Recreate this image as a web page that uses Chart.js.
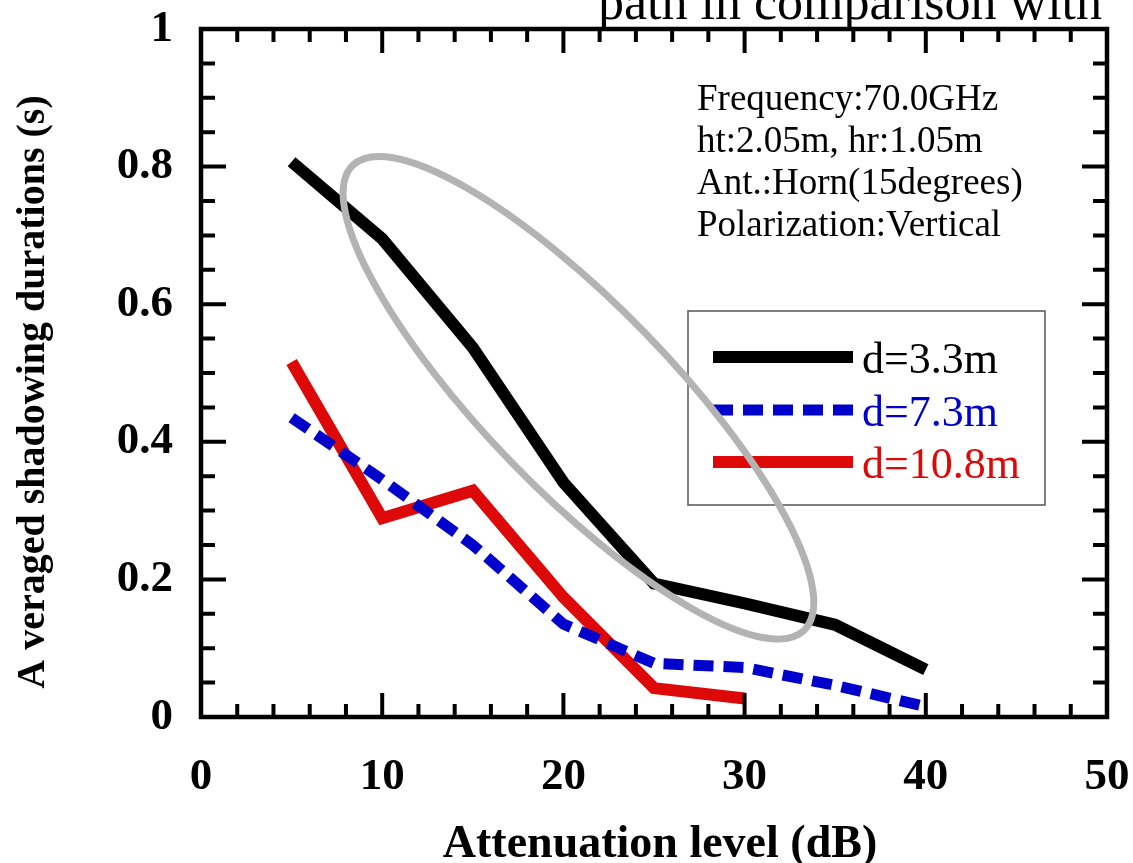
<!DOCTYPE html>
<html>
<head>
<meta charset="utf-8">
<script src="https://cdn.jsdelivr.net/npm/chart.js@4/dist/chart.umd.min.js"></script>
<style>
  html, body { margin: 0; padding: 0; background: #fff; }
  #wrap { width: 1133px; height: 863px; position: relative; }
</style>
</head>
<body>
<div id="wrap"><canvas id="c" width="1133" height="863"></canvas></div>
<script>
// ---- data ----
const attenuation = [5, 10, 15, 20, 25, 30, 35, 40];
const d33 = [0.807, 0.695, 0.537, 0.341, 0.194, 0.165, 0.134, 0.069];
const d73 = [0.435, 0.345, 0.25, 0.135, 0.078, 0.072, 0.046, 0.015];
const d108 = [0.516, 0.289, 0.329, 0.174, 0.042, 0.027];
const seriesLabels = ['d=3.3m', 'd=7.3m', 'd=10.8m'];
const xTicks = [0, 10, 20, 30, 40, 50];
const xTickLabels = ['0', '10', '20', '30', '40', '50'];
const yTicks = [0, 0.2, 0.4, 0.6, 0.8, 1];
const yTickLabels = ['0', '0.2', '0.4', '0.6', '0.8', '1'];
const infoLines = ['Frequency:70.0GHz', 'ht:2.05m, hr:1.05m', 'Ant.:Horn(15degrees)', 'Polarization:Vertical'];
const titleText = 'path in comparison with';
const xTitle = 'Attenuation level (dB)';
const yTitle = 'A veraged shadowing durations (s)';

const SERIF = '"Liberation Serif", "Times New Roman", serif';

function pts(xs, ys) { return ys.map((v, i) => ({ x: xs[i], y: v })); }

const decorPlugin = {
  id: 'decor',
  afterDatasetsDraw(chart) {
    const ctx = chart.ctx;
    const ca = chart.chartArea;
    const xs = chart.scales.x, ys = chart.scales.y;
    ctx.save();
    // frame
    ctx.strokeStyle = '#000';
    ctx.lineWidth = 4.5;
    ctx.strokeRect(ca.left, ca.top, ca.right - ca.left, ca.bottom - ca.top);
    // inward ticks
    ctx.lineWidth = 4;
    ctx.lineCap = 'butt';
    for (let v = 2; v < 50; v += 2) {
      const p = xs.getPixelForValue(v);
      const major = v % 10 === 0;
      const L = major ? 24 : 13;
      ctx.beginPath();
      ctx.moveTo(p, ca.bottom); ctx.lineTo(p, ca.bottom - L);
      ctx.moveTo(p, ca.top); ctx.lineTo(p, ca.top + L);
      ctx.stroke();
    }
    for (let k = 1; k < 20; k++) {
      const p = ys.getPixelForValue(k * 0.05);
      const major = k % 4 === 0;
      const L = major ? 25 : 14;
      ctx.beginPath();
      ctx.moveTo(ca.left, p); ctx.lineTo(ca.left + L, p);
      ctx.moveTo(ca.right, p); ctx.lineTo(ca.right - L, p);
      ctx.stroke();
    }
    // legend
    const lx0 = 688, ly0 = 311, lx1 = 1045, ly1 = 505;
    ctx.lineWidth = 1.5;
    ctx.strokeStyle = '#555';
    ctx.strokeRect(lx0, ly0, lx1 - lx0, ly1 - ly0);
    const rows = [357, 410, 462];
    chart.data.datasets.forEach((ds, i) => {
      ctx.save();
      ctx.strokeStyle = ds.borderColor;
      ctx.lineWidth = ds.borderWidth;
      ctx.setLineDash(ds.borderDash || []);
      ctx.beginPath();
      ctx.moveTo(713, rows[i]); ctx.lineTo(853, rows[i]);
      ctx.stroke();
      ctx.restore();
      ctx.fillStyle = ds.borderColor;
      ctx.font = '44px ' + SERIF;
      ctx.textAlign = 'left';
      ctx.textBaseline = 'alphabetic';
      ctx.fillText(ds.label, 862, rows[i] + 16);
    });
    // ellipse (anchored to data coordinates)
    const cx = xs.getPixelForValue(20.83), cy = ys.getPixelForValue(0.464);
    ctx.strokeStyle = '#b3b3b3';
    ctx.lineWidth = 7;
    ctx.beginPath();
    ctx.ellipse(cx, cy, 324, 93, 45.85 * Math.PI / 180, 0, Math.PI * 2);
    ctx.stroke();
    // info text
    ctx.fillStyle = '#000';
    ctx.font = '37px ' + SERIF;
    ctx.textAlign = 'left';
    ctx.textBaseline = 'alphabetic';
    infoLines.forEach((t, i) => ctx.fillText(t, 697, 110 + 42 * i));
    // cut-off title
    ctx.font = '52px ' + SERIF;
    ctx.fillText(titleText, 598, 19);
    // axis titles
    ctx.font = 'bold 46px ' + SERIF;
    ctx.textAlign = 'center';
    ctx.fillText(xTitle, 660, 857);
    ctx.save();
    ctx.translate(44, 392);
    ctx.rotate(-Math.PI / 2);
    ctx.font = 'bold 40px ' + SERIF;
    ctx.fillText(yTitle, 0, 0);
    ctx.restore();
    ctx.restore();
  }
};

new Chart(document.getElementById('c'), {
  type: 'line',
  data: {
    datasets: [
      { label: seriesLabels[0], data: pts(attenuation, d33), borderColor: '#000000', borderWidth: 12, pointRadius: 0, tension: 0 },
      { label: seriesLabels[1], data: pts(attenuation, d73), borderColor: '#0000cc', borderWidth: 11, borderDash: [20, 10], pointRadius: 0, tension: 0 },
      { label: seriesLabels[2], data: pts(attenuation, d108), borderColor: '#dd0808', borderWidth: 12, pointRadius: 0, tension: 0 }
    ]
  },
  options: {
    responsive: false,
    animation: false,
    devicePixelRatio: 1,
    layout: { padding: { left: 0, top: 29, right: 26, bottom: 0 } },
    plugins: { legend: { display: false }, tooltip: { enabled: false } },
    scales: {
      x: {
        type: 'linear', min: 0, max: 50,
        afterBuildTicks: (s) => { s.ticks = xTicks.map(v => ({ value: v })); },
        afterFit: (s) => { s.height = 146; s.paddingLeft = 0; s.paddingRight = 0; },
        grid: { display: false, drawTicks: false },
        border: { display: false },
        ticks: {
          padding: 33, color: '#000', autoSkip: false, maxRotation: 0,
          font: { family: SERIF, size: 45, weight: 'bold' },
          callback: (v) => { const i = xTicks.indexOf(v); return i >= 0 ? xTickLabels[i] : ''; }
        }
      },
      y: {
        type: 'linear', min: 0, max: 1,
        afterBuildTicks: (s) => { s.ticks = yTicks.map(v => ({ value: v })); },
        afterFit: (s) => { s.width = 201; s.paddingTop = 0; s.paddingBottom = 0; },
        grid: { display: false, drawTicks: false },
        border: { display: false },
        ticks: {
          padding: 28, color: '#000', autoSkip: false,
          font: { family: SERIF, size: 45, weight: 'bold' },
          callback: (v) => { const i = yTicks.findIndex(t => Math.abs(t - v) < 1e-9); return i >= 0 ? yTickLabels[i] : ''; }
        }
      }
    }
  },
  plugins: [decorPlugin]
});
</script>
</body>
</html>
